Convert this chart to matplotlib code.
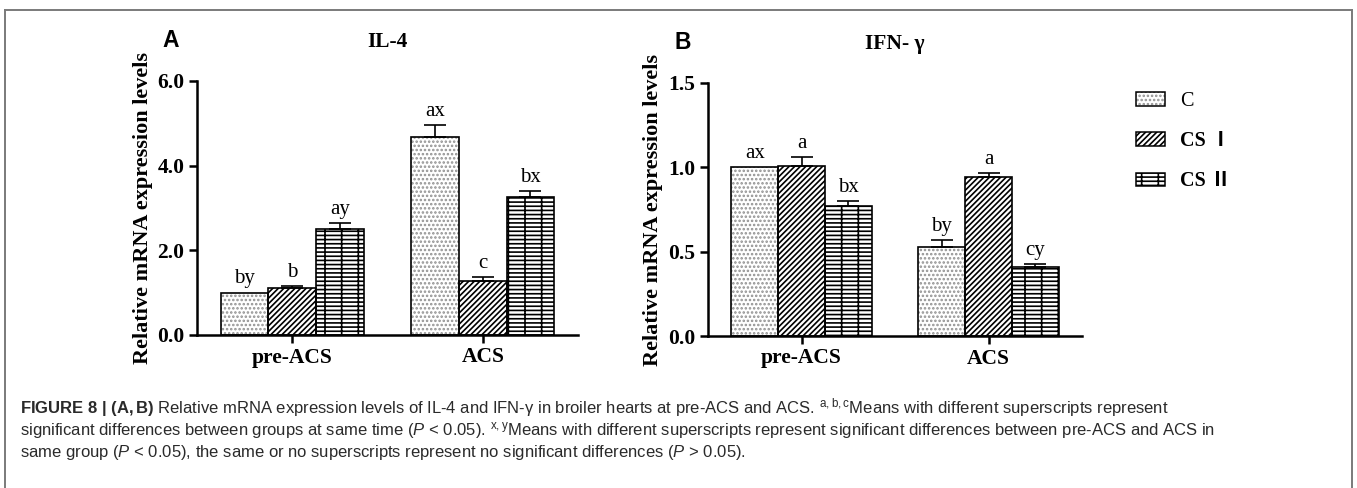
import matplotlib
matplotlib.use("Agg")
import matplotlib.pyplot as plt
from matplotlib.patches import Patch
from matplotlib.legend_handler import HandlerTuple
from matplotlib.lines import Line2D
import numpy as np

plt.rcParams['font.family'] = ['Liberation Serif', 'DejaVu Serif']
plt.rcParams['mathtext.fontset'] = 'custom'
plt.rcParams['mathtext.rm'] = 'Liberation Sans'
plt.rcParams['mathtext.it'] = 'Liberation Sans:italic'
plt.rcParams['mathtext.bf'] = 'Liberation Sans:bold'
plt.rcParams['hatch.linewidth'] = 1.2

# data
groups = ['pre-ACS', 'ACS']
series = ['C', 'CS Ⅰ', 'CS Ⅱ']

il4_c = [1.00, 4.68]
il4_c_err = [0.0, 0.27]
il4_cs1 = [1.12, 1.27]
il4_cs1_err = [0.03, 0.10]
il4_cs2 = [2.50, 3.27]
il4_cs2_err = [0.15, 0.12]
il4_marks = [['by', 'ax'], ['b', 'c'], ['ay', 'bx']]

ifn_c = [1.00, 0.53]
ifn_c_err = [0.0, 0.04]
ifn_cs1 = [1.01, 0.94]
ifn_cs1_err = [0.05, 0.025]
ifn_cs2 = [0.77, 0.41]
ifn_cs2_err = [0.03, 0.015]
ifn_marks = [['ax', 'by'], ['a', 'a'], ['bx', 'cy']]

hatches = ['....', '//////', '|----']
hatch_cols = ['#909090', 'black', 'black']

W, H = 1357, 488
fig = plt.figure(figsize=(W / 100, H / 100), dpi=100)


def px_axes(x0, x1, ytop, ybot):
    return fig.add_axes([x0 / W, 1 - ybot / H, (x1 - x0) / W, (ybot - ytop) / H])


def draw_panel(ax, vals, errs, marks, ymax, yticks, title, letter, label_x):
    x = np.arange(len(groups))
    width = 0.25
    for i in range(3):
        pos = x + (i - 1) * width
        ax.bar(pos, vals[i], width, color='white', edgecolor=hatch_cols[i],
               hatch=hatches[i], linewidth=0, zorder=2)
        ax.bar(pos, vals[i], width, fill=False, edgecolor='black',
               linewidth=1.2, zorder=3)
        for j in range(len(groups)):
            if errs[i][j] > 0:
                ax.errorbar(pos[j], vals[i][j], yerr=[[0], [errs[i][j]]],
                            color='black', capsize=8, capthick=1.2,
                            elinewidth=1.2, zorder=4)
            ax.annotate(marks[i][j], (pos[j], vals[i][j] + errs[i][j]),
                        xytext=(0, 3), textcoords='offset points',
                        ha='center', va='bottom', fontsize=15)
    ax.set_xlim(-0.5, 1.5)
    ax.set_ylim(0, ymax)
    ax.set_yticks(yticks)
    ax.set_yticklabels(['%.1f' % t for t in yticks], fontweight='bold', fontsize=15.5)
    ax.set_xticks(x)
    ax.set_xticklabels(groups, fontweight='bold', fontsize=15.5)
    for s in ['top', 'right']:
        ax.spines[s].set_visible(False)
    for s in ['left', 'bottom']:
        ax.spines[s].set_linewidth(1.8)
    ax.tick_params(axis='both', length=6, width=1.8, pad=3)
    ax.set_ylabel('Relative mRNA expression levels', fontweight='bold', fontsize=16)
    ax.yaxis.set_label_coords(label_x, 0.5)
    ax.text(0.5, 1.155, title, transform=ax.transAxes, ha='center', va='center',
            fontsize=15.5, fontweight='bold')
    ax.text(-0.09, 1.16, letter, transform=ax.transAxes, ha='left', va='center',
            fontsize=16.5, fontweight='bold', family='Liberation Sans')


ax1 = px_axes(197, 578, 81, 335)
draw_panel(ax1, [il4_c, il4_cs1, il4_cs2], [il4_c_err, il4_cs1_err, il4_cs2_err],
           il4_marks, 6, [0, 2, 4, 6], 'IL-4', 'A', -0.115)

ax2 = px_axes(708, 1082, 83, 336)
draw_panel(ax2, [ifn_c, ifn_cs1, ifn_cs2], [ifn_c_err, ifn_cs1_err, ifn_cs2_err],
           ifn_marks, 1.5, [0, 0.5, 1.0, 1.5], 'IFN- γ', 'B', -0.12)

handles = []
for i in range(3):
    handles.append((Patch(facecolor='white', edgecolor=hatch_cols[i], hatch=hatches[i], linewidth=0),
                    Patch(fill=False, edgecolor='black', linewidth=1.1)))
leg = fig.legend(handles, series, handler_map={tuple: HandlerTuple(ndivide=1)},
                 loc='upper left', bbox_to_anchor=(1122 / W, 1 - 78 / H),
                 frameon=False, handlelength=1.45, handleheight=0.65,
                 labelspacing=1.0, handletextpad=0.75, borderaxespad=0.3,
                 prop={'family': ['Liberation Serif', 'Noto Sans CJK SC'], 'size': 14.5})
for k, t in enumerate(leg.get_texts()):
    if k > 0:
        t.set_fontweight('bold')

# border around the figure panel
for xs, ys in [([5, 5], [10, H + 5]), ([5, 1352], [10, 10]), ([1352, 1352], [10, H + 5])]:
    fig.add_artist(Line2D([x / W for x in xs], [1 - y / H for y in ys], color='#7a7a7a', linewidth=1.4))

cap_lines = [
    r"$\mathbf{FIGURE\ 8\ |\ (A,B)}$ Relative mRNA expression levels of IL-4 and IFN-γ in broiler hearts at pre-ACS and ACS. $^{\mathrm{a,b,c}}$Means with different superscripts represent",
    r"significant differences between groups at same time ($\mathit{P}$ < 0.05). $^{\mathrm{x,y}}$Means with different superscripts represent significant differences between pre-ACS and ACS in",
    r"same group ($\mathit{P}$ < 0.05), the same or no superscripts represent no significant differences ($\mathit{P}$ > 0.05).",
]
for k, line in enumerate(cap_lines):
    fig.text(20 / W, 1 - (408 + k * 22.5) / H, line, ha='left', va='center',
             fontsize=12, family='Liberation Sans', color='#2a2a2a')

fig.savefig('out.png', dpi=100)
